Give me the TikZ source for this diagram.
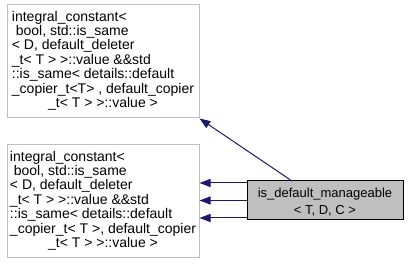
\documentclass[tikz,border=0pt]{standalone}
\usepackage{fontspec}
\setmainfont{Liberation Sans}
\usetikzlibrary{arrows.meta}
\definecolor{edgeblue}{HTML}{191970}
\definecolor{boxgray}{HTML}{BFBFBF}
\definecolor{framegray}{HTML}{BFBFBF}
\tikzset{
  basebox/.style={draw=framegray, line width=1pt, fill=white, rectangle,
    minimum width=192pt, minimum height=113pt, inner sep=0pt,
    font=\fontsize{14}{14.3}\selectfont},
  classbox/.style={draw=black, line width=1pt, fill=boxgray, rectangle,
    minimum width=156pt, minimum height=39pt, inner sep=0pt, align=center,
    font=\fontsize{13}{17}\selectfont},
  inherit/.style={draw=edgeblue, line width=1pt,
    -{Triangle[length=11pt,width=8pt,fill=edgeblue]}},
}
\newcommand{\tplbody}[1]{%
  \begin{tabular}{@{}l@{}}
  integral\_constant<\\
  \ bool, std::is\_same\\
  < D, default\_deleter\\
  \_t< T > >::value \&\&std\\
  ::is\_same< details::default\\
  #1\\
  \multicolumn{1}{@{}c@{}}{\_t< T > >::value >}
  \end{tabular}}
\begin{document}
\begin{tikzpicture}[x=1pt, y=-1pt]
  \useasboundingbox (0,0) rectangle (408,264);
  % base classes
  \node[basebox] (top) at (103,61.5)
    {\tplbody{\_copier\_t<T> , default\_copier}};
  \node[basebox] (bot) at (103,201.5)
    {\tplbody{\_copier\_t< T >, default\_copier}};
  % derived class
  \node[classbox] (cls) at (325,200.5)
    {\rule{0pt}{13pt}is\_default\_manageable\\< T, D, C >};
  % inheritance edges
  \coordinate (diagstart) at (292,181);
  \draw[inherit] (diagstart) -- (top.south east);
  \draw[inherit] ([yshift=-17.5pt]cls.west) -- ([yshift=-17.5pt]cls.west -| bot.east);
  \draw[inherit] (cls.west) -- (cls.west -| bot.east);
  \draw[inherit] ([yshift=17.5pt]cls.west) -- ([yshift=17.5pt]cls.west -| bot.east);
\end{tikzpicture}
\end{document}
